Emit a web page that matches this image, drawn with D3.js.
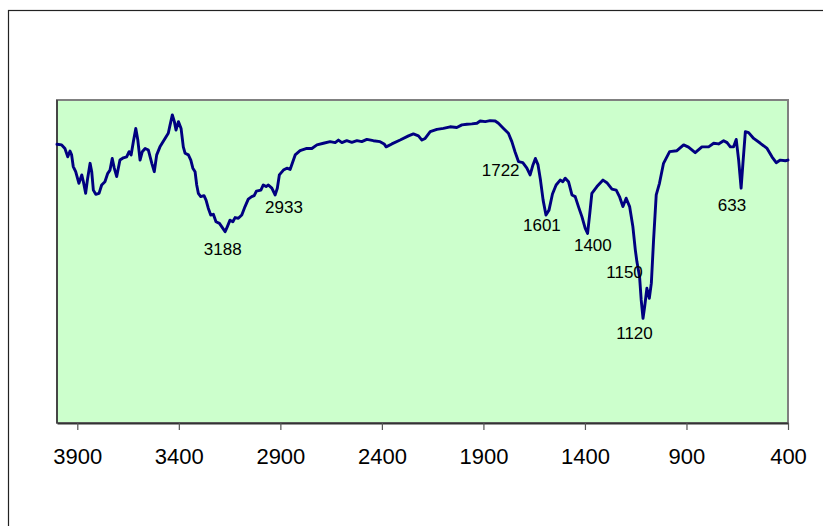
<!DOCTYPE html>
<html>
<head>
<meta charset="utf-8">
<script src="https://cdn.jsdelivr.net/npm/d3@7"></script>
<style>
  body { margin: 0; background: #fff; }
  svg { display: block; font-family: Arial, "Liberation Sans", sans-serif; }
</style>
</head>
<body>
<svg id="chart" width="823" height="526"></svg>
<script>
// IR spectrum, wavenumber (cm-1) vs transmittance (arbitrary %)
let wavenumber = [4000, 3977, 3961, 3947, 3936, 3928, 3920, 3908, 3892, 3878, 3870, 3859, 3849, 3837, 3829, 3821, 3809, 3793, 3780, 3764,
    3750, 3739, 3728, 3718, 3706, 3690, 3673, 3657, 3645, 3635, 3624, 3612, 3602, 3591, 3580, 3566, 3550, 3533, 3521, 3509,
    3493, 3468, 3452, 3443, 3432, 3422, 3414, 3402, 3389, 3378, 3369, 3353, 3341, 3331, 3320, 3312, 3304, 3292, 3276, 3266,
    3255, 3243, 3230, 3217, 3200, 3189, 3172, 3161, 3148, 3134, 3123, 3107, 3090, 3074, 3058, 3041, 3029, 3018, 2996, 2984,
    2970, 2959, 2942, 2926, 2915, 2905, 2885, 2868, 2852, 2827, 2803, 2770, 2745, 2720, 2688, 2655, 2630, 2614, 2597, 2573,
    2548, 2523, 2499, 2474, 2442, 2409, 2389, 2379, 2351, 2310, 2269, 2245, 2220, 2203, 2187, 2162, 2129, 2097, 2064, 2031,
    2006, 1981, 1957, 1932, 1916, 1891, 1867, 1842, 1826, 1801, 1777, 1760, 1744, 1727, 1706, 1686, 1670, 1656, 1644, 1631,
    1619, 1606, 1592, 1577, 1560, 1542, 1522, 1509, 1497, 1481, 1464, 1448, 1432, 1415, 1399, 1387, 1377, 1366, 1341, 1311,
    1292, 1267, 1246, 1230, 1213, 1197, 1180, 1164, 1152, 1144, 1131, 1123, 1114, 1106, 1095, 1083, 1073, 1062, 1049, 1033,
    1013, 983, 947, 914, 890, 857, 824, 791, 766, 742, 717, 700, 684, 668, 655, 643, 631, 622, 610, 594,
    569, 536, 503, 479, 458, 438, 413, 400]

let transmittance = [86.3, 86.1, 85.0, 82.4, 84.2, 83.0, 79.4, 77.8, 74.2, 76.8, 74.7, 71.1, 75.8, 80.4, 77.8, 72.1, 70.8, 71.1, 73.7, 74.7,
    77.3, 78.3, 81.9, 78.9, 76.3, 81.4, 82.1, 82.4, 84.0, 83.0, 87.1, 91.2, 87.6, 81.4, 84.0, 85.0, 84.5, 80.4, 77.8, 83.0,
    85.5, 88.1, 89.7, 92.3, 95.4, 93.3, 90.7, 93.3, 91.2, 85.5, 83.5, 83.0, 81.4, 78.9, 77.8, 73.7, 71.1, 70.1, 70.4, 69.0,
    66.5, 64.4, 64.6, 62.3, 61.8, 60.8, 59.2, 60.8, 62.8, 62.3, 63.6, 63.4, 64.4, 67.0, 69.3, 70.1, 70.4, 71.8, 72.1, 73.7,
    73.2, 73.7, 72.7, 70.6, 72.7, 76.8, 78.3, 78.9, 78.5, 83.0, 84.3, 85.0, 85.0, 86.1, 86.6, 87.1, 86.8, 87.6, 86.8, 87.4,
    86.9, 87.4, 87.1, 87.8, 87.4, 87.1, 86.4, 85.5, 86.4, 87.6, 88.9, 89.5, 88.9, 87.6, 88.1, 90.2, 90.9, 91.2, 91.7, 91.5,
    92.3, 92.5, 92.6, 92.8, 93.5, 93.3, 93.6, 93.5, 92.8, 91.2, 89.7, 87.1, 83.9, 80.9, 80.6, 78.9, 76.8, 79.9, 81.9, 79.9,
    75.2, 69.0, 64.4, 65.9, 70.9, 73.7, 75.2, 74.7, 75.8, 74.7, 70.6, 70.1, 67.0, 63.9, 60.3, 58.7, 64.4, 71.1, 73.2, 75.2,
    74.4, 72.4, 72.1, 70.1, 67.0, 69.6, 67.0, 60.8, 53.6, 49.9, 45.3, 38.1, 32.4, 36.0, 41.7, 38.6, 43.3, 56.7, 70.6, 74.2,
    80.4, 84.0, 84.3, 86.1, 85.4, 83.7, 85.5, 85.5, 86.6, 86.4, 87.4, 86.8, 85.5, 85.5, 87.8, 81.4, 72.7, 80.4, 90.2, 89.9,
    88.1, 86.6, 85.0, 82.4, 80.6, 81.4, 81.2, 81.4]

// peak labels: text, position (wavenumber, transmittance of baseline)
let peakText = ['3188', '2933', '1722', '1601', '1400', '1150', '1120', '633']
let peakX = [3184, 2882, 1815, 1612, 1361, 1205, 1156, 676]
let peakY = [52.0, 65.1, 76.5, 59.5, 53.3, 44.8, 25.9, 65.6]

let xTicks = [3900, 3400, 2900, 2400, 1900, 1400, 900, 400]

let svg = d3.select('#chart'),
    plotLeft = 57,
    plotRight = 788,
    plotTop = 100,
    plotBottom = 423

let x = d3.scaleLinear().domain([4000, 400]).range([plotLeft, plotRight])
let y = d3.scaleLinear().domain([0, 100]).range([plotBottom, plotTop])

// outer chart frame (runs past the right and bottom edges)
svg.append('rect')
    .attr('x', 8.5).attr('y', 10.5)
    .attr('width', 840).attr('height', 540)
    .attr('fill', 'none')
    .attr('stroke', '#222')
    .attr('stroke-width', 1.2)

// plot area
svg.append('rect')
    .attr('x', plotLeft).attr('y', plotTop)
    .attr('width', plotRight - plotLeft).attr('height', plotBottom - plotTop)
    .attr('fill', '#ccffcc')
    .attr('stroke', '#808080')
    .attr('stroke-width', 2)

svg.append('line')
    .attr('x1', plotLeft).attr('x2', plotLeft)
    .attr('y1', plotTop).attr('y2', plotBottom)
    .attr('stroke', '#333')
    .attr('stroke-width', 1.5)

let axis = svg.append('g')
    .attr('transform', `translate(0,${plotBottom})`)
    .call(d3.axisBottom(x).tickValues(xTicks).tickSize(7).tickPadding(18).tickSizeOuter(0).tickFormat(d3.format('d')))

axis.select('.domain').attr('stroke', '#333').attr('stroke-width', 2)
axis.selectAll('.tick line').attr('stroke', '#555').attr('stroke-width', 1.2)
axis.selectAll('.tick text')
    .attr('fill', '#000')
    .style('font-size', '22px')
    .style('font-family', 'Arial, "Liberation Sans", sans-serif')

let points = wavenumber.map((w, i) => [w, transmittance[i]])

let line = d3.line()
    .x(d => x(d[0]))
    .y(d => y(d[1]))

svg.append('path')
    .datum(points)
    .attr('d', line)
    .attr('fill', 'none')
    .attr('stroke', '#000080')
    .attr('stroke-width', 2.9)
    .attr('stroke-linejoin', 'round')
    .attr('stroke-linecap', 'round')

svg.selectAll('.peak')
    .data(peakText)
    .enter().append('text')
    .attr('class', 'peak')
    .attr('x', (d, i) => x(peakX[i]))
    .attr('y', (d, i) => y(peakY[i]))
    .attr('text-anchor', 'middle')
    .style('font-size', '17px')
    .attr('fill', '#000')
    .text(d => d)
</script>
</body>
</html>
